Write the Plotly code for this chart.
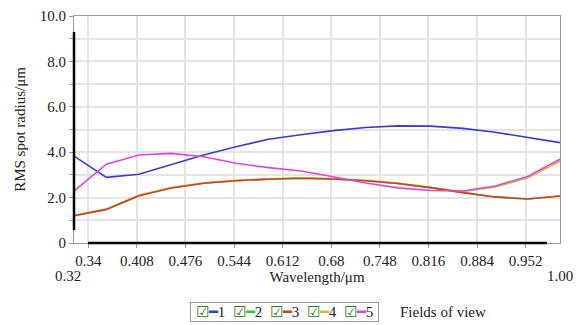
import plotly.graph_objects as go

wavelength = [0.32, 0.3653, 0.4107, 0.456, 0.5013, 0.5467, 0.592, 0.6373,
              0.6827, 0.728, 0.7733, 0.8187, 0.864, 0.9093, 0.9547, 1.0]
field1 = [3.83, 2.89, 3.03, 3.45, 3.88, 4.24, 4.57, 4.77, 4.95, 5.09, 5.16, 5.15, 5.05, 4.88, 4.66, 4.42]
field2 = [1.20, 1.48, 2.08, 2.42, 2.63, 2.74, 2.81, 2.85, 2.82, 2.74, 2.62, 2.44, 2.22, 2.03, 1.94, 2.07]
field3 = [1.20, 1.48, 2.08, 2.42, 2.63, 2.74, 2.81, 2.85, 2.82, 2.74, 2.62, 2.44, 2.22, 2.03, 1.94, 2.07]
field4 = [1.22, 1.50, 2.10, 2.44, 2.65, 2.76, 2.83, 2.87, 2.84, 2.76, 2.64, 2.46, 2.27, 2.46, 2.86, 3.60]
field5 = [2.29, 3.47, 3.88, 3.95, 3.80, 3.51, 3.32, 3.17, 2.92, 2.64, 2.43, 2.31, 2.29, 2.51, 2.93, 3.69]

x_ticks = [0.34, 0.408, 0.476, 0.544, 0.612, 0.68, 0.748, 0.816, 0.884, 0.952]
x_ticktext = ["0.34", "0.408", "0.476", "0.544", "0.612", "0.68", "0.748", "0.816", "0.884", "0.952"]
y_ticks = [0, 1, 2, 3, 4, 5, 6, 7, 8, 9, 10]
y_ticktext = ["0", "", "2.0", "", "4.0", "", "6.0", "", "8.0", "", "10.0"]

# (name, values, colour, legend position)
series = [
    ("1", field1, "#3c3cd2", 1),
    ("2", field2, "#2ed02e", 2),
    ("4", field4, "#c9c23a", 4),
    ("3", field3, "#d5402a", 3),
    ("5", field5, "#e044e0", 5),
]

font = "Liberation Serif, Times New Roman, serif"
fig = go.Figure()
for name, vals, color, rank in series:
    fig.add_trace(go.Scatter(x=wavelength, y=vals, mode="lines", name=name,
                             line=dict(color=color, width=1.6), legendrank=rank,
                             showlegend=False))

fig.update_layout(
    width=576, height=325,
    margin=dict(l=74, r=16, t=16, b=82, autoexpand=False),
    paper_bgcolor="white", plot_bgcolor="white",
    font=dict(family=font, size=15, color="#222"),
    showlegend=False,
    xaxis=dict(range=[0.32, 1.0], tickvals=x_ticks, ticktext=x_ticktext,
               showgrid=True, gridcolor="#e4e4e4", gridwidth=1.5,
               showline=True, linecolor="#999", linewidth=1, mirror=True,
               ticks="outside", ticklen=4, tickcolor="#999",
               tickfont=dict(size=15), zeroline=False,
               title=dict(text="Wavelength/μm", font=dict(size=15), standoff=0)),
    yaxis=dict(range=[0, 10], tickvals=y_ticks, ticktext=y_ticktext,
               showgrid=True, gridcolor="#e4e4e4", gridwidth=1.5,
               showline=True, linecolor="#999", linewidth=1, mirror=True,
               ticks="outside", ticklen=4, tickcolor="#999",
               tickfont=dict(size=15), zeroline=False,
               title=dict(text="RMS spot radius/μm", font=dict(size=15), standoff=10)),
)

# heavy axis strokes
fig.add_shape(type="line", xref="paper", yref="paper", x0=0, x1=0, y0=0.057, y1=0.93,
              line=dict(color="black", width=2.5))
fig.add_shape(type="line", xref="paper", yref="paper", x0=0.029, x1=0.973, y0=0, y1=0,
              line=dict(color="black", width=2.5))

fig.add_annotation(text="0.32", xref="paper", yref="paper", x=-0.012, y=-0.1,
                   showarrow=False, xanchor="center", yanchor="top", font=dict(size=15))
fig.add_annotation(text="1.00", xref="paper", yref="paper", x=1.0, y=-0.1,
                   showarrow=False, xanchor="center", yanchor="top", font=dict(size=15))

# legend box built from the series names/colours
legend_order = sorted(series, key=lambda s: s[3])
parts = []
for name, vals, color, rank in legend_order:
    parts.append('<span style="color:#2a7a2a">☑</span><span style="color:%s">━</span>%s'
                 % (color, name))
fig.add_annotation(text="&nbsp;" + "&nbsp;&nbsp;".join(parts) + "&nbsp;",
                   xref="paper", yref="paper", x=0.434, y=-0.306,
                   showarrow=False, xanchor="center", yanchor="middle",
                   bordercolor="#999", borderwidth=1, borderpad=1, font=dict(size=15))
fig.add_annotation(text="Fields of view", xref="paper", yref="paper", x=0.667, y=-0.306,
                   showarrow=False, xanchor="left", yanchor="middle", font=dict(size=15))

fig.write_html("out.html")
